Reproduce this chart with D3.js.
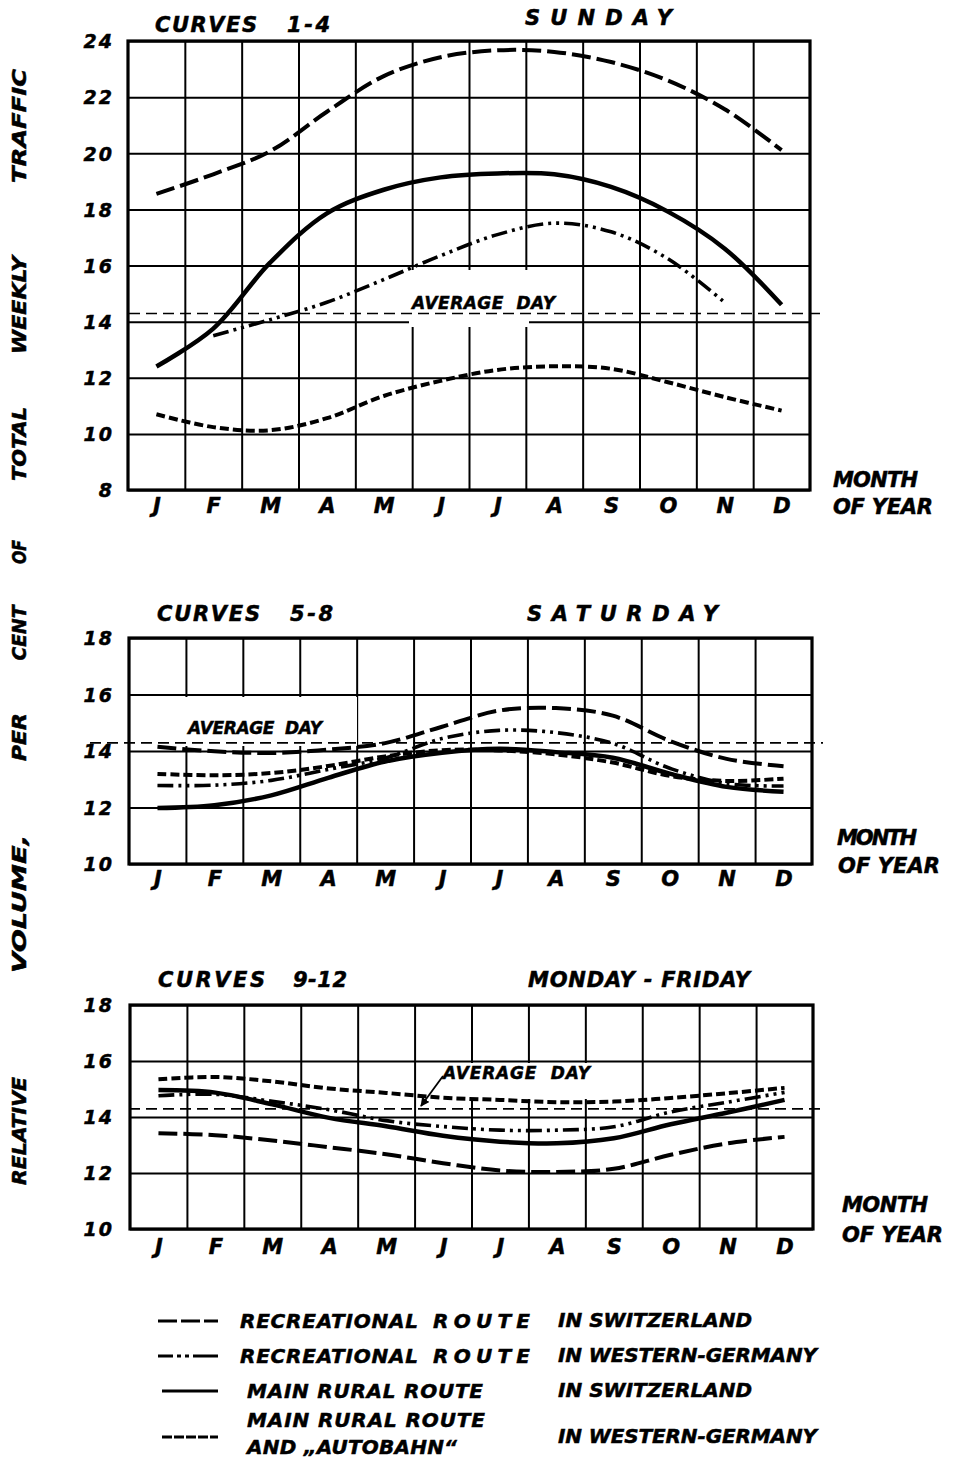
<!DOCTYPE html>
<html>
<head>
<meta charset="utf-8">
<script src="https://cdn.jsdelivr.net/npm/d3@7"></script>
<style>
  body { margin: 0; background: #fff; }
  svg { display: block; }
  text { font-family: "DejaVu Sans", "Liberation Sans", Arial, sans-serif; font-weight: bold; font-style: italic; fill: #000; stroke: #000; stroke-width: 0.5px; }
</style>
</head>
<body>
<svg id="chart" width="957" height="1461"></svg>
<script>
// ---------------- DATA ----------------
const months = ["J", "F", "M", "A", "M", "J", "J", "A", "S", "O", "N", "D"];
const averageDay = 14.29;               // 1/7 of weekly traffic, per cent
const sundayTicks = [8, 10, 12, 14, 16, 18, 20, 22, 24];
const weekTicks = [10, 12, 14, 16, 18];

// Curves 1-4, Sunday
const sunRecCH  = [18.55, 19.25, 20.07, 21.48, 22.75, 23.42, 23.67, 23.61, 23.25, 22.59, 21.57, 20.11];
const sunRecDE  = [null, 13.5, 14.07, 14.69, 15.5, 16.35, 17.1, 17.51, 17.2, 16.24, 14.68, null];
const sunMainCH = [12.4, 13.75, 16.1, 17.86, 18.7, 19.14, 19.28, 19.25, 18.8, 17.92, 16.6, 14.6];
const sunMainDE = [10.7, 10.24, 10.13, 10.56, 11.35, 11.89, 12.28, 12.41, 12.32, 11.84, 11.31, 10.83];

// Curves 5-8, Saturday
const satRecCH  = [14.15, 13.99, 13.93, 14.05, 14.28, 14.86, 15.43, 15.52, 15.25, 14.36, 13.72, 13.46];
const satRecDE  = [12.78, 12.79, 12.96, 13.35, 13.75, 14.44, 14.73, 14.65, 14.27, 13.39, 12.85, 12.76];
const satMainCH = [11.98, 12.08, 12.43, 13.05, 13.63, 13.94, 14.08, 13.96, 13.76, 13.2, 12.73, 12.56];
const satMainDE = [13.19, 13.14, 13.22, 13.47, 13.81, 14.03, 14.02, 13.88, 13.59, 13.12, 12.94, 13.02];

// Curves 9-12, Monday - Friday
const wkRecCH  = [13.42, 13.35, 13.16, 12.92, 12.67, 12.35, 12.09, 12.04, 12.15, 12.65, 13.06, 13.29];
const wkRecDE  = [14.76, 14.81, 14.56, 14.26, 13.87, 13.66, 13.53, 13.53, 13.65, 14.18, 14.53, 14.88];
const wkMainCH = [14.96, 14.87, 14.45, 13.97, 13.67, 13.33, 13.12, 13.06, 13.24, 13.74, 14.16, 14.61];
const wkMainDE = [15.35, 15.43, 15.27, 15.02, 14.86, 14.69, 14.61, 14.53, 14.55, 14.68, 14.85, 15.04];

const legendRoutes = [["RECREATIONAL", "ROUTE"], ["RECREATIONAL", "ROUTE"], ["MAIN RURAL ROUTE"], ["MAIN RURAL ROUTE", "AND \u201EAUTOBAHN\u201C"]];
const legendCountries = ["IN SWITZERLAND", "IN WESTERN-GERMANY", "IN SWITZERLAND", "IN WESTERN-GERMANY"];
const yTitleWords = ["RELATIVE", "VOLUME,", "PER", "CENT", "OF", "TOTAL", "WEEKLY", "TRAFFIC"];

// ---------------- STYLES / LAYOUT ----------------
const seriesStyles = [
  { dash: "19,6", width: 4 },            // recreational route, Switzerland
  { dash: "16,5,3,5,3,5", width: 3.6 },   // recreational route, W-Germany
  { dash: null, width: 4.5 },             // main rural route, Switzerland
  { dash: "9,4", width: 4 }               // main rural route + autobahn, W-Germany
];

const panels = [
  { x0: 128, x1: 810, y0: 41, y1: 490, domain: [8, 24], ticks: sundayTicks,
    series: [sunRecCH, sunRecDE, sunMainCH, sunMainDE],
    curves: ["CURVES", 155, 102, "1-4", 287, 43, 24], day: ["SUNDAY", 525, 147, 17],
    monthY: 505, month: [833, 85, 479], ofYear: [833, 100, 506],
    avg: [129, 820], box: [409, 529, 270, 327], avgLabel: [412, 143, 303], arrow: null },
  { x0: 129, x1: 812, y0: 638, y1: 864, domain: [10, 18], ticks: weekTicks,
    series: [satRecCH, satRecDE, satMainCH, satMainDE],
    curves: ["CURVES", 157, 103, "5-8", 290, 43, 613], day: ["SATURDAY", 527, 191, 613],
    monthY: 878, month: [837, 80, 837], ofYear: [838, 102, 865],
    avg: [90, 823], box: [131, 357, 697, 746], avgLabel: [188, 134, 728], arrow: null },
  { x0: 130, x1: 813, y0: 1005, y1: 1229, domain: [10, 18], ticks: weekTicks,
    series: [wkRecCH, wkRecDE, wkMainCH, wkMainDE],
    curves: ["CURVES", 158, 107, "9-12", 293, 54, 979], day: ["MONDAY - FRIDAY", 528, 222, 979],
    monthY: 1246, month: [842, 86, 1204], ofYear: [842, 101, 1234],
    avg: [129, 823], box: [440, 596, 1063, 1099], avgLabel: [443, 147, 1073], arrow: [[443, 1076], [421, 1106]] }
];

// ---------------- DRAW ----------------
const svg = d3.select("#chart");
svg.append("rect").attr("width", 957).attr("height", 1461).attr("fill", "#fff");

const defs = svg.append("defs");
defs.append("marker").attr("id", "arrow").attr("viewBox", "0 0 10 10")
  .attr("refX", 9).attr("refY", 5).attr("markerWidth", 5).attr("markerHeight", 5)
  .attr("orient", "auto")
  .append("path").attr("d", "M0,0 L10,5 L0,10 z").attr("fill", "#000");

function label(g, s, x, y, size, len, anchor) {
  const t = g.append("text")
    .attr("x", x).attr("y", y + size * 0.36)
    .attr("font-size", size)
    .attr("text-anchor", anchor || "start")
    .text(s);
  if (len) t.attr("textLength", len).attr("lengthAdjust", "spacing");
  return t;
}

panels.forEach(p => {
  const g = svg.append("g");
  const y = d3.scaleLinear().domain(p.domain).range([p.y1, p.y0]);
  const xBand = d3.scaleLinear().domain([0, 12]).range([p.x0, p.x1]);
  const xPt = d3.scalePoint().domain(d3.range(12)).range([p.x0, p.x1]).padding(0.5);

  // horizontal gridlines
  const hg = g.append("g").attr("transform", `translate(${p.x0},0)`)
    .call(d3.axisLeft(y).tickValues(p.ticks).tickSize(-(p.x1 - p.x0)).tickFormat(""));
  hg.select(".domain").remove();
  hg.selectAll("line").attr("stroke", "#000").attr("stroke-width", 2);

  // vertical gridlines (month boundaries)
  const vg = g.append("g").attr("transform", `translate(0,${p.y1})`)
    .call(d3.axisBottom(xBand).tickValues(d3.range(1, 12)).tickSize(-(p.y1 - p.y0)).tickFormat(""));
  vg.select(".domain").remove();
  vg.selectAll("line").attr("stroke", "#000").attr("stroke-width", 2);

  // frame
  g.append("rect").attr("x", p.x0).attr("y", p.y0)
    .attr("width", p.x1 - p.x0).attr("height", p.y1 - p.y0)
    .attr("fill", "none").attr("stroke", "#000").attr("stroke-width", 3.2);

  // y tick labels
  const ya = g.append("g").attr("transform", `translate(${p.x0},0)`)
    .call(d3.axisLeft(y).tickValues(p.ticks).tickSize(0).tickPadding(p.x0 - 114));
  ya.select(".domain").remove();
  ya.selectAll("text").attr("font-size", 19).attr("dy", "0.36em")
    .attr("letter-spacing", 2)
    .attr("font-family", null).attr("fill", "#000");

  // month labels
  const xa = g.append("g").attr("transform", `translate(0,${p.monthY})`)
    .call(d3.axisBottom(xPt).tickFormat(i => months[i]).tickSize(0).tickPadding(0));
  xa.select(".domain").remove();
  xa.selectAll("text").attr("y", 0).attr("dy", "0.36em").attr("font-size", 21)
    .attr("font-family", null).attr("fill", "#000");

  // white label box
  g.append("rect").attr("x", p.box[0]).attr("y", p.box[2])
    .attr("width", p.box[1] - p.box[0]).attr("height", p.box[3] - p.box[2]).attr("fill", "#fff");

  // average day line
  g.append("line").attr("x1", p.avg[0]).attr("x2", p.avg[1])
    .attr("y1", y(averageDay)).attr("y2", y(averageDay))
    .attr("stroke", "#000").attr("stroke-width", 1.7).attr("stroke-dasharray", "11,6");
  label(g, "AVERAGE  DAY", p.avgLabel[0], p.avgLabel[2], 17, p.avgLabel[1]).style("white-space", "pre");
  if (p.arrow) {
    g.append("line").attr("x1", p.arrow[0][0]).attr("y1", p.arrow[0][1])
      .attr("x2", p.arrow[1][0]).attr("y2", p.arrow[1][1])
      .attr("stroke", "#000").attr("stroke-width", 1.8).attr("marker-end", "url(#arrow)");
  }

  // curves
  const line = d3.line()
    .defined(d => d != null)
    .x((d, i) => xPt(i))
    .y(d => y(d))
    .curve(d3.curveCatmullRom.alpha(0.5));
  p.series.forEach((s, k) => {
    const st = seriesStyles[k];
    g.append("path").attr("d", line(s))
      .attr("fill", "none").attr("stroke", "#000")
      .attr("stroke-width", st.width)
      .attr("stroke-dasharray", st.dash);
  });

  // titles
  label(g, p.curves[0], p.curves[1], p.curves[6], 21, p.curves[2]);
  label(g, p.curves[3], p.curves[4], p.curves[6], 21, p.curves[5]);
  label(g, p.day[0], p.day[1], p.day[3], 21, p.day[2]).style("white-space", "pre");
  label(g, "MONTH", p.month[0], p.month[2], 21, p.month[1]);
  label(g, "OF YEAR", p.ofYear[0], p.ofYear[2], 21, p.ofYear[1]);
});

// rotated y-axis title
const yTitlePos = [[1131, 108], [904, 138], [737, 48], [633, 55], [552, 24], [444, 74], [305, 98], [126, 114]];
yTitleWords.forEach((w, i) => {
  svg.append("text")
    .attr("transform", `translate(26,${yTitlePos[i][0]}) rotate(-90)`)
    .attr("x", -yTitlePos[i][1] / 2).attr("y", 0)
    .attr("font-size", 19)
    .attr("textLength", yTitlePos[i][1]).attr("lengthAdjust", "spacingAndGlyphs")
    .text(w);
});

// legend
const legend = svg.append("g");
const legendRowsY = [1321, 1356, 1391, 1433];
const legendDash = ["19,4", "15,4,4,4,4,4,30", null, "10,2"];
legendRoutes.forEach((r, i) => {
  const ly = legendRowsY[i];
  legend.append("line").attr("x1", i >= 2 ? 162 : 158).attr("x2", 218)
    .attr("y1", ly + (i === 3 ? 4 : 0)).attr("y2", ly + (i === 3 ? 4 : 0))
    .attr("stroke", "#000").attr("stroke-width", 3.2).attr("stroke-dasharray", legendDash[i]);
  if (i < 2) {
    label(legend, r[0], 240, ly, 20, 178);
    label(legend, r[1], 433, ly, 20, 97);
  } else if (i === 2) {
    label(legend, r[0], 247, ly, 20, 236);
  } else {
    label(legend, r[0], 247, ly - 13, 20, 238);
    label(legend, r[1], 247, ly + 14, 20, 210);
  }
  label(legend, legendCountries[i], 558, i === 3 ? ly + 3 : ly - 1, 20, i % 2 === 0 ? 194 : 259);
});
</script>
</body>
</html>
